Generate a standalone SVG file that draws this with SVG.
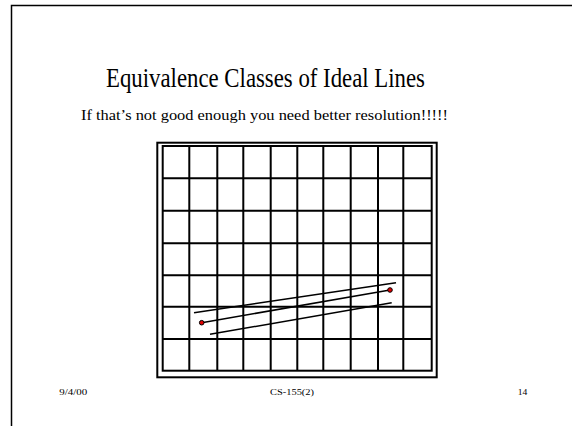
<svg xmlns="http://www.w3.org/2000/svg" width="572" height="426" viewBox="0 0 572 426">
<style>
.t{font-family:"Liberation Serif","DejaVu Serif",serif;fill:#000}
.g{stroke:#000;stroke-width:2;fill:none}
.ln{stroke:#000;stroke-width:1.5;fill:none}
.dot{fill:#e00000;stroke:#000;stroke-width:1}
</style>
<rect width="572" height="426" fill="#fff"/>
<path d="M11.5,426 V5.5 H572" stroke="#000" stroke-width="1.5" fill="none"/>
<g id="title"><text class="t" x="106" y="87" font-size="27" textLength="319" lengthAdjust="spacingAndGlyphs">Equivalence Classes of Ideal Lines</text></g>
<g id="subtitle"><text class="t" x="81" y="120" font-size="15.5" textLength="367" lengthAdjust="spacingAndGlyphs">If that’s not good enough you need better resolution!!!!!</text></g>
<g id="grid">
<rect class="g" x="157.3" y="142.7" width="279.4" height="234.6" stroke-width="1.5"/>
<rect class="g" x="162.7" y="146" width="269" height="224.7"/>
<path class="g" d="M189.3,146V370.7M217.3,146V370.7M243.3,146V370.7M270.7,146V370.7M297.3,146V370.7M323.3,146V370.7M350.7,146V370.7M378,146V370.7M403.3,146V370.7M162.7,178.3H431.7M162.7,210.7H431.7M162.7,243.3H431.7M162.7,275.3H431.7M162.7,306.7H431.7M162.7,339H431.7"/>
</g>
<g id="connectors">
<line class="ln" x1="194" y1="312.7" x2="396" y2="282.7"/>
<line class="ln" x1="201.7" y1="322.7" x2="390" y2="290"/>
<line class="ln" x1="210" y1="334.3" x2="391.7" y2="302.7"/>
</g>
<g id="p1"><circle class="dot" cx="201.7" cy="322.7" r="2.3"/></g>
<g id="p2"><circle class="dot" cx="390" cy="290" r="2.3"/></g>
<g id="footer">
<text class="t" x="59.3" y="395" font-size="9" textLength="28" lengthAdjust="spacingAndGlyphs">9/4/00</text>
<text class="t" x="270" y="395" font-size="9" textLength="44" lengthAdjust="spacingAndGlyphs">CS-155(2)</text>
<text class="t" x="517.7" y="395" font-size="9" textLength="9.6" lengthAdjust="spacingAndGlyphs">14</text>
</g>
</svg>
